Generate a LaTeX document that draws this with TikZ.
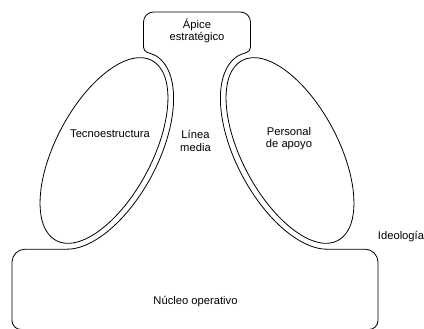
\documentclass[tikz,border=0pt]{standalone}
\usepackage{fontspec}
\setmainfont{Liberation Sans}
\usetikzlibrary{shapes.geometric}
\begin{document}
\begin{tikzpicture}[x=1pt,y=-1pt,
  outline/.style={draw=black, line width=0.8pt, line join=round},
  unitshape/.style={ellipse, draw=black, line width=0.8pt, inner sep=0pt,
    minimum width=204pt, minimum height=96pt},
  lbl/.style={font=\fontsize{11.2}{12.5}\selectfont, align=center, inner sep=0pt}]
\useasboundingbox (0,0) rectangle (424,329);

% Outer contour: strategic apex, middle line and operating core as one path
\draw[outline]
  (143.5,47) -- (143.5,22)
  .. controls (143.5,16.5) and (148,12) .. (153.5,12) -- (240.5,12)
  .. controls (246,12) and (250.5,16.5) .. (250.5,22) -- (250.5,47)
  .. controls (250.5,53) and (243.7,52.85) .. (239.3,55.15)
  -- plot[domain=0:165.1, samples=80, variable=\t]
     ({290 - 50.7*cos(\t) - 47.68*sin(\t)}, {150.5 - 95.35*cos(\t) + 25.35*sin(\t)})
  -- (365,249.2) .. controls (372.2,249.2) and (378,255) .. (378,262.2)
  -- (378,320.5) .. controls (378,325.5) and (374,329.5) .. (369,329.5)
  -- (21,329.5) .. controls (16,329.5) and (12,325.5) .. (12,320.5)
  -- (12,262.2) .. controls (12,255) and (17.8,249.2) .. (25,249.2)
  -- plot[domain=165.1:0, samples=80, variable=\t]
     ({104 + 50.7*cos(\t) + 47.68*sin(\t)}, {150.5 - 95.35*cos(\t) + 25.35*sin(\t)})
  .. controls (150.3,52.8) and (143.5,53) .. (143.5,47) -- cycle;

% Technostructure and support staff
\node[unitshape, rotate=62]  (tecno)   at (104,150.5) {};
\node[unitshape, rotate=-62] (apoyo)   at (290,150.5) {};

% Labels
\node[lbl] (apice)    at (197,31)    {Ápice\\estratégico};
\node[lbl] (tecnoT)   at (110,134)   {Tecnoestructura};
\node[lbl] (linea)    at (195.5,141) {Línea\\media};
\node[lbl] (apoyoT)   at (289,138.5) {Personal\\de apoyo};
\node[lbl] (ideo)     at (401,236.5) {Ideología};
\node[lbl] (nucleo)   at (195.5,302) {Núcleo operativo};
\end{tikzpicture}
\end{document}
